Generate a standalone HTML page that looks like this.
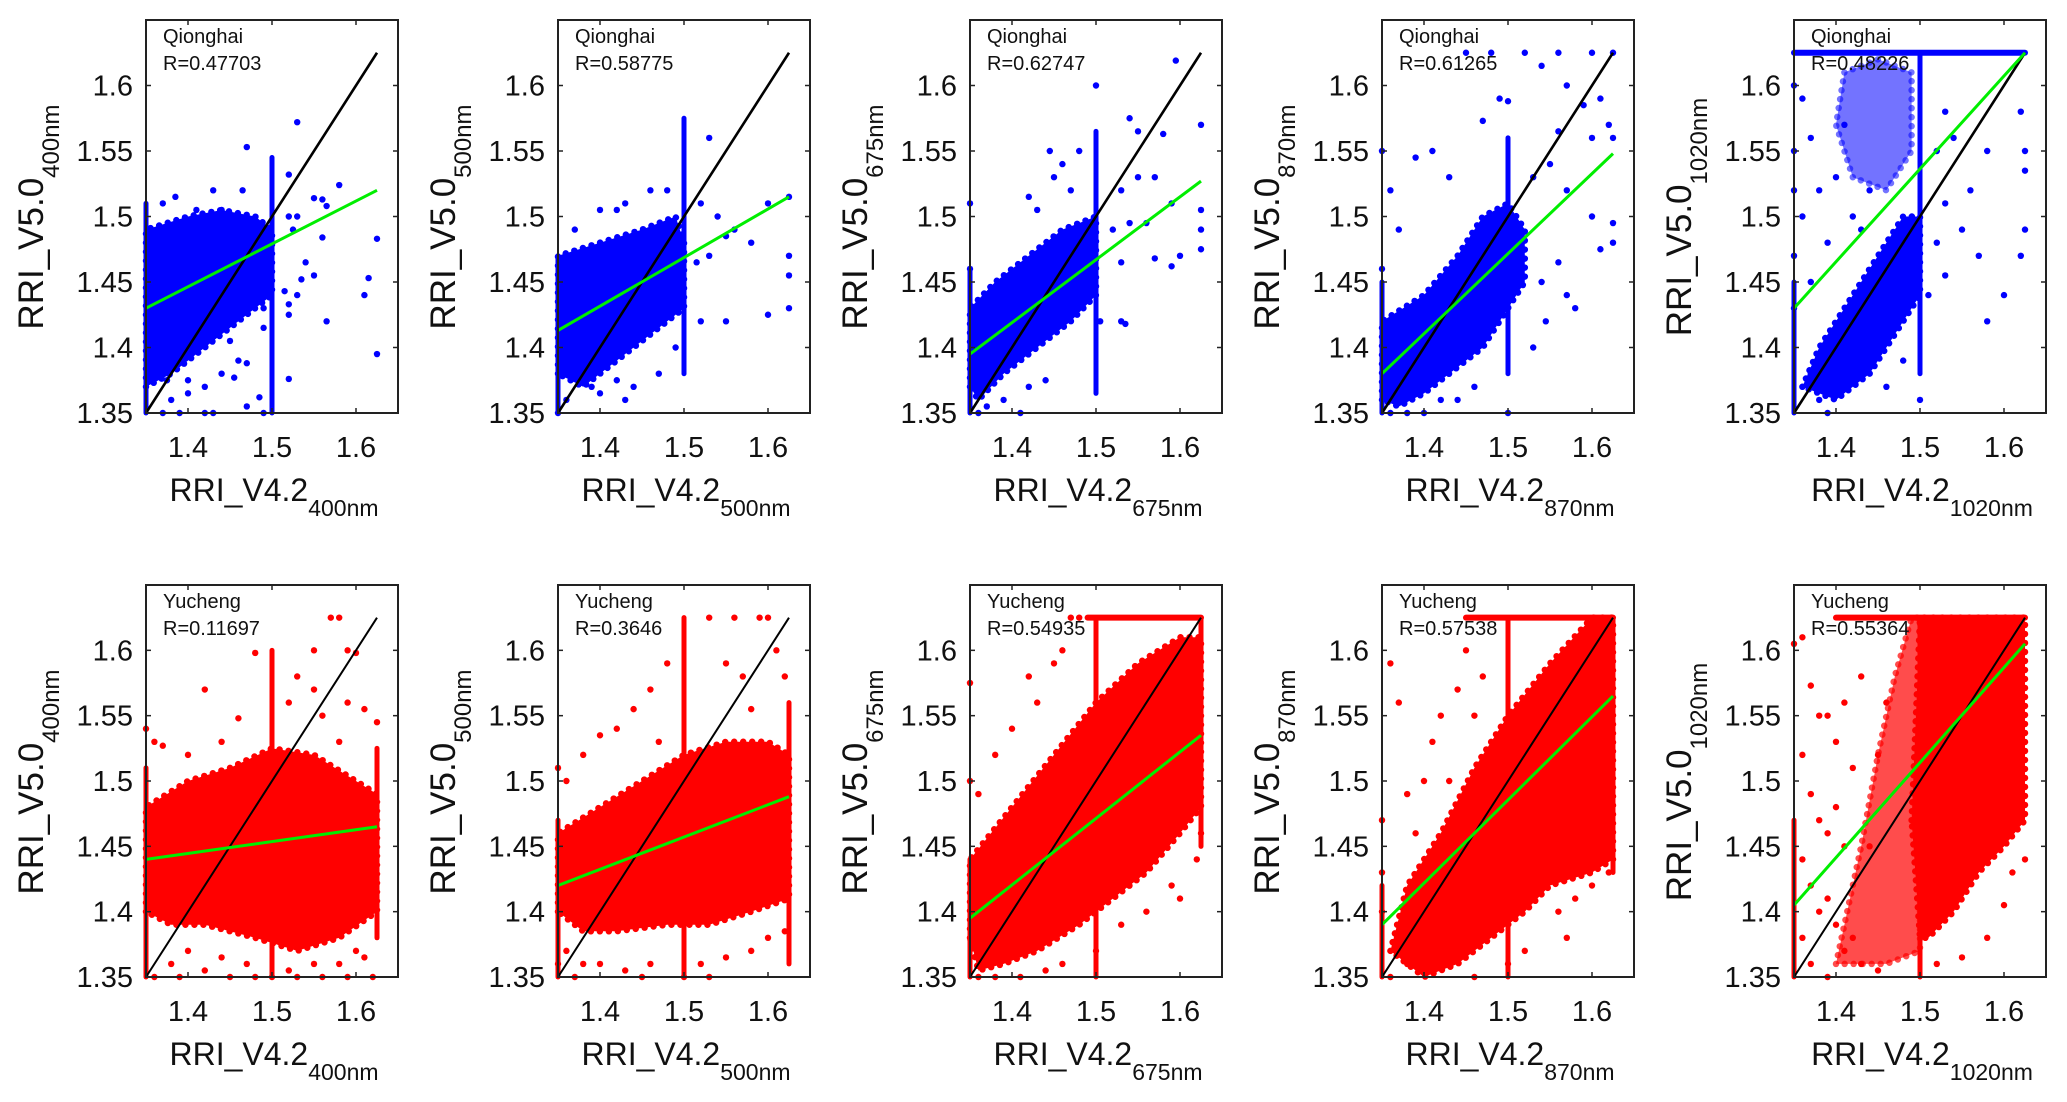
<!DOCTYPE html>
<html><head><meta charset="utf-8"><style>
html,body{margin:0;padding:0;background:#fff;}
svg{display:block;font-family:"Liberation Sans",Arial,sans-serif;}
</style></head><body>
<svg id="fig" width="2067" height="1102" viewBox="0 0 2067 1102" xmlns="http://www.w3.org/2000/svg"></svg>
<script>
// ---- data ----
const sites = ["Qionghai","Qionghai","Qionghai","Qionghai","Qionghai","Yucheng","Yucheng","Yucheng","Yucheng","Yucheng"];
const bands = ["400nm","500nm","675nm","870nm","1020nm","400nm","500nm","675nm","870nm","1020nm"];
const rValues = ["0.47703","0.58775","0.62747","0.61265","0.48226","0.11697","0.3646","0.54935","0.57538","0.55364"];
const xTicks = [1.4,1.5,1.6];
const yTicks = [1.35,1.4,1.45,1.5,1.55,1.6];
const xTickLabels = ["1.4","1.5","1.6"];
const yTickLabels = ["1.35","1.4","1.45","1.5","1.55","1.6"];
const oneToOne = [1.35,1.625];
// fit lines: [y at 1.35, y at 1.625]
const fitStart = [1.43,1.413,1.395,1.38,1.43,1.44,1.42,1.395,1.39,1.405];
const fitEnd = [1.52,1.515,1.527,1.548,1.625,1.465,1.488,1.535,1.565,1.605];
// dense cores (polygons, data units)
const cores = [
 [[[1.35,1.37],[1.35,1.49],[1.40,1.50],[1.44,1.505],[1.48,1.50],[1.50,1.49],[1.50,1.44],[1.46,1.42],[1.42,1.40],[1.38,1.38]]],
 [[[1.35,1.38],[1.35,1.47],[1.40,1.48],[1.45,1.49],[1.49,1.50],[1.50,1.48],[1.50,1.43],[1.46,1.41],[1.42,1.39],[1.38,1.37]]],
 [[[1.35,1.37],[1.35,1.43],[1.38,1.45],[1.42,1.47],[1.46,1.49],[1.50,1.50],[1.50,1.44],[1.47,1.42],[1.43,1.40],[1.39,1.38],[1.36,1.36]]],
 [[[1.35,1.36],[1.35,1.42],[1.40,1.44],[1.44,1.47],[1.47,1.50],[1.50,1.51],[1.52,1.49],[1.52,1.45],[1.50,1.43],[1.47,1.40],[1.43,1.38],[1.40,1.365],[1.37,1.355]]],
 [[[1.36,1.37],[1.38,1.40],[1.42,1.44],[1.45,1.47],[1.48,1.50],[1.50,1.50],[1.50,1.44],[1.47,1.41],[1.44,1.38],[1.40,1.36]],
  [[1.42,1.53],[1.40,1.57],[1.41,1.61],[1.45,1.62],[1.49,1.61],[1.49,1.55],[1.46,1.52]]],
 [[[1.35,1.40],[1.35,1.48],[1.40,1.50],[1.45,1.51],[1.50,1.525],[1.55,1.52],[1.60,1.50],[1.625,1.49],[1.625,1.40],[1.58,1.38],[1.53,1.37],[1.48,1.38],[1.42,1.39],[1.38,1.39]]],
 [[[1.35,1.40],[1.35,1.46],[1.40,1.48],[1.45,1.50],[1.50,1.52],[1.55,1.53],[1.60,1.53],[1.625,1.52],[1.625,1.41],[1.58,1.40],[1.53,1.39],[1.48,1.39],[1.42,1.385],[1.38,1.385]]],
 [[[1.35,1.38],[1.35,1.44],[1.40,1.48],[1.45,1.52],[1.50,1.56],[1.55,1.59],[1.60,1.61],[1.625,1.61],[1.625,1.48],[1.60,1.46],[1.56,1.43],[1.52,1.41],[1.48,1.39],[1.43,1.37],[1.39,1.36],[1.36,1.355]]],
 [[[1.36,1.37],[1.38,1.42],[1.42,1.46],[1.46,1.51],[1.50,1.55],[1.55,1.59],[1.60,1.625],[1.625,1.625],[1.625,1.44],[1.60,1.43],[1.55,1.42],[1.52,1.40],[1.48,1.38],[1.44,1.36],[1.40,1.35]]],
 [[[1.49,1.47],[1.50,1.625],[1.625,1.625],[1.625,1.47],[1.60,1.45],[1.57,1.43],[1.54,1.40],[1.51,1.38],[1.50,1.38]],
  [[1.40,1.36],[1.43,1.45],[1.45,1.52],[1.47,1.58],[1.49,1.625],[1.50,1.625],[1.50,1.37],[1.46,1.36]]]
];
// opacity of each core (sparser secondary clouds lighter)
const coreOpacity = [[1],[1],[1],[1],[1,0.55],[1],[1],[1],[1],[1,0.7]];
// vertical stripes of points: [x, y0, y1]
const stripes = [
 [[1.5,1.35,1.545],[1.35,1.35,1.51]],
 [[1.5,1.38,1.575],[1.35,1.35,1.47]],
 [[1.5,1.365,1.565],[1.35,1.35,1.46]],
 [[1.5,1.38,1.56],[1.35,1.35,1.45]],
 [[1.5,1.38,1.625],[1.35,1.35,1.45]],
 [[1.5,1.35,1.60],[1.625,1.38,1.525],[1.35,1.35,1.51]],
 [[1.5,1.35,1.625],[1.625,1.36,1.56],[1.35,1.35,1.47]],
 [[1.5,1.35,1.625],[1.625,1.45,1.625],[1.35,1.35,1.44]],
 [[1.5,1.35,1.625],[1.625,1.43,1.625],[1.35,1.35,1.42]],
 [[1.5,1.35,1.625],[1.35,1.35,1.47]]
];
// horizontal saturation bands at top: [x0, x1, y]
const topBands = [[],[],[],[],[[1.35,1.625,1.625]],[],[],[[1.49,1.625,1.625]],[[1.45,1.625,1.625]],[[1.40,1.625,1.625]]];
const scatterPts = [
 [[1.47,1.553],[1.53,1.572],[1.52,1.532],[1.58,1.524],[1.56,1.513],[1.55,1.514],[1.565,1.508],[1.53,1.50],[1.52,1.50],[1.525,1.49],[1.56,1.484],[1.625,1.483],[1.54,1.465],[1.535,1.452],[1.55,1.455],[1.515,1.443],[1.52,1.433],[1.53,1.44],[1.52,1.425],[1.61,1.44],[1.615,1.453],[1.565,1.42],[1.625,1.395],[1.52,1.376],[1.485,1.362],[1.49,1.35],[1.47,1.355],[1.47,1.388],[1.46,1.39],[1.45,1.405],[1.455,1.377],[1.44,1.38],[1.42,1.37],[1.40,1.365],[1.38,1.36],[1.39,1.35],[1.37,1.35],[1.42,1.35],[1.43,1.35],[1.40,1.375],[1.36,1.39],[1.375,1.375],[1.43,1.52],[1.385,1.515],[1.37,1.51],[1.41,1.505],[1.465,1.52],[1.44,1.505],[1.49,1.415],[1.49,1.43],[1.47,1.44],[1.48,1.45]],
 [[1.35,1.35],[1.36,1.36],[1.37,1.38],[1.39,1.37],[1.40,1.365],[1.42,1.375],[1.43,1.36],[1.44,1.37],[1.47,1.38],[1.49,1.40],[1.52,1.42],[1.55,1.42],[1.52,1.51],[1.53,1.56],[1.54,1.50],[1.55,1.485],[1.56,1.49],[1.58,1.48],[1.60,1.51],[1.625,1.515],[1.625,1.47],[1.625,1.455],[1.625,1.43],[1.60,1.425],[1.43,1.51],[1.40,1.505],[1.37,1.49],[1.42,1.505],[1.46,1.52],[1.48,1.52],[1.515,1.465],[1.53,1.47]],
 [[1.35,1.51],[1.35,1.46],[1.36,1.35],[1.37,1.355],[1.39,1.36],[1.41,1.35],[1.42,1.37],[1.44,1.375],[1.42,1.515],[1.43,1.505],[1.445,1.55],[1.45,1.53],[1.48,1.55],[1.46,1.54],[1.47,1.52],[1.50,1.60],[1.595,1.619],[1.54,1.575],[1.55,1.565],[1.58,1.563],[1.57,1.53],[1.55,1.53],[1.53,1.52],[1.52,1.49],[1.54,1.495],[1.56,1.495],[1.59,1.51],[1.625,1.57],[1.625,1.505],[1.625,1.49],[1.625,1.475],[1.60,1.47],[1.59,1.462],[1.57,1.468],[1.53,1.465],[1.505,1.42],[1.53,1.42],[1.535,1.418]],
 [[1.35,1.55],[1.35,1.46],[1.36,1.35],[1.38,1.35],[1.40,1.35],[1.42,1.36],[1.44,1.36],[1.46,1.37],[1.50,1.35],[1.37,1.49],[1.36,1.52],[1.39,1.545],[1.41,1.55],[1.43,1.53],[1.47,1.573],[1.49,1.59],[1.50,1.588],[1.45,1.625],[1.48,1.625],[1.52,1.625],[1.56,1.625],[1.60,1.625],[1.625,1.625],[1.54,1.615],[1.57,1.60],[1.59,1.585],[1.61,1.59],[1.62,1.57],[1.625,1.56],[1.60,1.56],[1.56,1.565],[1.55,1.54],[1.53,1.53],[1.57,1.52],[1.60,1.50],[1.625,1.495],[1.61,1.475],[1.56,1.465],[1.57,1.44],[1.54,1.45],[1.545,1.42],[1.53,1.40],[1.58,1.43],[1.625,1.48]],
 [[1.35,1.43],[1.35,1.47],[1.35,1.52],[1.35,1.55],[1.35,1.60],[1.36,1.59],[1.37,1.56],[1.38,1.52],[1.36,1.50],[1.39,1.48],[1.37,1.45],[1.40,1.53],[1.41,1.57],[1.42,1.50],[1.43,1.49],[1.44,1.52],[1.52,1.55],[1.53,1.58],[1.54,1.56],[1.53,1.51],[1.52,1.48],[1.55,1.49],[1.56,1.52],[1.57,1.47],[1.58,1.55],[1.60,1.44],[1.58,1.42],[1.62,1.58],[1.625,1.55],[1.625,1.535],[1.625,1.49],[1.62,1.47],[1.51,1.44],[1.53,1.455],[1.37,1.38],[1.38,1.36],[1.39,1.35],[1.50,1.36],[1.46,1.37],[1.48,1.39]],
 [[1.35,1.54],[1.36,1.53],[1.37,1.527],[1.40,1.52],[1.42,1.57],[1.46,1.548],[1.44,1.53],[1.48,1.598],[1.55,1.60],[1.57,1.625],[1.58,1.625],[1.59,1.60],[1.60,1.598],[1.53,1.58],[1.55,1.57],[1.56,1.55],[1.52,1.56],[1.59,1.56],[1.61,1.555],[1.625,1.545],[1.58,1.53],[1.40,1.37],[1.38,1.36],[1.36,1.35],[1.39,1.35],[1.42,1.355],[1.45,1.35],[1.48,1.35],[1.50,1.35],[1.53,1.35],[1.56,1.35],[1.59,1.35],[1.62,1.35],[1.55,1.36],[1.60,1.37],[1.44,1.365],[1.47,1.36],[1.52,1.355],[1.58,1.36],[1.61,1.365]],
 [[1.35,1.51],[1.36,1.50],[1.38,1.52],[1.40,1.535],[1.42,1.54],[1.44,1.555],[1.46,1.57],[1.47,1.53],[1.48,1.59],[1.53,1.625],[1.56,1.625],[1.59,1.625],[1.60,1.625],[1.55,1.59],[1.57,1.58],[1.61,1.60],[1.62,1.58],[1.58,1.555],[1.36,1.37],[1.38,1.36],[1.40,1.36],[1.43,1.355],[1.46,1.36],[1.50,1.35],[1.52,1.36],[1.55,1.365],[1.58,1.37],[1.60,1.38],[1.62,1.385],[1.37,1.35],[1.45,1.35],[1.53,1.35],[1.35,1.36]],
 [[1.35,1.575],[1.35,1.50],[1.36,1.49],[1.38,1.52],[1.40,1.54],[1.42,1.58],[1.43,1.56],[1.45,1.59],[1.46,1.60],[1.47,1.625],[1.48,1.625],[1.52,1.50],[1.55,1.46],[1.57,1.44],[1.59,1.42],[1.60,1.41],[1.625,1.46],[1.62,1.44],[1.56,1.40],[1.53,1.39],[1.50,1.37],[1.46,1.36],[1.44,1.355],[1.41,1.35],[1.38,1.35],[1.36,1.35]],
 [[1.35,1.40],[1.35,1.43],[1.35,1.47],[1.36,1.59],[1.37,1.56],[1.38,1.49],[1.40,1.50],[1.41,1.53],[1.42,1.55],[1.44,1.57],[1.45,1.60],[1.46,1.55],[1.47,1.58],[1.43,1.50],[1.39,1.46],[1.56,1.40],[1.58,1.41],[1.60,1.42],[1.57,1.38],[1.52,1.37],[1.50,1.36],[1.46,1.35],[1.38,1.36],[1.36,1.35],[1.62,1.43]],
 [[1.35,1.605],[1.36,1.61],[1.37,1.573],[1.38,1.55],[1.39,1.55],[1.40,1.53],[1.41,1.56],[1.42,1.51],[1.43,1.58],[1.36,1.52],[1.37,1.49],[1.38,1.47],[1.39,1.46],[1.40,1.48],[1.41,1.45],[1.36,1.44],[1.37,1.42],[1.38,1.40],[1.39,1.41],[1.40,1.39],[1.41,1.37],[1.42,1.38],[1.36,1.38],[1.37,1.36],[1.39,1.35],[1.43,1.36],[1.45,1.355],[1.44,1.45],[1.45,1.52],[1.46,1.56],[1.55,1.365],[1.58,1.38],[1.60,1.405],[1.61,1.43],[1.625,1.44],[1.52,1.36]]
];

// ---- drawing ----
const NS = "http://www.w3.org/2000/svg";
const svg = document.getElementById("fig");
const DMIN = 1.35, DMAX = 1.65;
const rowTop = [20, 585], rowH = [393, 392];
const panelW = 252;
function mk(tag, attrs, parent) {
  const e = document.createElementNS(NS, tag);
  for (const k in attrs) e.setAttribute(k, attrs[k]);
  (parent || svg).appendChild(e);
  return e;
}
for (let p = 0; p < 10; p++) {
  const row = p < 5 ? 0 : 1, col = p % 5;
  const L = 146 + col * 412, T = rowTop[row], H = rowH[row], W = panelW;
  const sx = v => L + (v - DMIN) / (DMAX - DMIN) * W;
  const sy = v => T + H - (v - DMIN) / (DMAX - DMIN) * H;
  const color = row === 0 ? "#0000ff" : "#ff0000";
  const g = mk("g", {});
  
  
  cores[p].forEach((poly, k) => {
    const pts = poly.map(q => sx(q[0]) + "," + sy(q[1])).join(" ");
    const op = coreOpacity[p][k];
    const pg = mk("polygon", {points: pts, fill: color, "fill-opacity": op, stroke: "none"}, g);
    
    
    const halo = mk("polygon", {points: pts, fill: "none", stroke: color, "stroke-opacity": op, "stroke-width": 6.5, "stroke-dasharray": "0 9", "stroke-linecap": "round"}, g);
    
    
  });
  stripes[p].forEach(s => {
    const ln = mk("line", {x1: sx(s[0]), x2: sx(s[0]), y1: sy(s[1]), y2: sy(s[2]), stroke: color, "stroke-width": 5, "stroke-linecap": "round"}, g);
    
    
  });
  topBands[p].forEach(b => {
    const ln = mk("line", {x1: sx(b[0]), x2: sx(b[1]), y1: sy(b[2]), y2: sy(b[2]), stroke: color, "stroke-width": 6, "stroke-linecap": "round"}, g);
    
    
  });
  scatterPts[p].forEach(q => {
    const c = mk("circle", {cx: sx(q[0]), cy: sy(q[1]), r: 3.2, fill: color}, g);
    
    
  });
  const l1 = mk("line", {x1: sx(oneToOne[0]), y1: sy(oneToOne[0]), x2: sx(oneToOne[1]), y2: sy(oneToOne[1]), stroke: "#000", "stroke-width": row === 0 ? 2.6 : 2}, g);
  
  
  const lf = mk("line", {x1: sx(oneToOne[0]), y1: sy(fitStart[p]), x2: sx(oneToOne[1]), y2: sy(fitEnd[p]), stroke: "#00ee00", "stroke-width": 3}, g);
  
  
  const fr = mk("rect", {x: L, y: T, width: W, height: H, fill: "none", stroke: "#222", "stroke-width": 2}, g);
  
  
  xTicks.forEach((v, i) => {
    mk("line", {x1: sx(v), x2: sx(v), y1: T + H, y2: T + H - 5, stroke: "#222", "stroke-width": 1.5}, g);
    mk("line", {x1: sx(v), x2: sx(v), y1: T, y2: T + 5, stroke: "#222", "stroke-width": 1.5}, g);
    const t = mk("text", {x: sx(v), y: T + H + 44, "font-size": 29, "text-anchor": "middle", fill: "#111"}, g);
    t.textContent = xTickLabels[i];
    
    
  });
  yTicks.forEach((v, i) => {
    mk("line", {x1: L, x2: L + 5, y1: sy(v), y2: sy(v), stroke: "#222", "stroke-width": 1.5}, g);
    mk("line", {x1: L + W, x2: L + W - 5, y1: sy(v), y2: sy(v), stroke: "#222", "stroke-width": 1.5}, g);
    const t = mk("text", {x: L - 13, y: sy(v) + 10, "font-size": 29, "text-anchor": "end", fill: "#111"}, g);
    t.textContent = yTickLabels[i];
    
    
  });
  const a1 = mk("text", {x: L + 17, y: T + 23, "font-size": 20, fill: "#111"}, g);
  a1.textContent = sites[p];
  
  
  const a2 = mk("text", {x: L + 17, y: T + 50, "font-size": 20, fill: "#111"}, g);
  a2.textContent = "R=" + rValues[p];
  
  
  const xt = mk("text", {x: L + W / 2 + 2, y: T + H + 88, "font-size": 32, "text-anchor": "middle", fill: "#111"}, g);
  
  
  const xs1 = mk("tspan", {}, xt); xs1.textContent = "RRI_V4.2";
  const xs2 = mk("tspan", {"font-size": 23, dy: 15}, xt); xs2.textContent = bands[p];
  const cy = T + 197;
  const yt = mk("text", {x: 0, y: 0, transform: "translate(" + (L - 103) + "," + cy + ") rotate(-90)", "font-size": 35, "text-anchor": "middle", fill: "#111"}, g);
  
  
  const ys1 = mk("tspan", {}, yt); ys1.textContent = "RRI_V5.0";
  const ys2 = mk("tspan", {"font-size": 24, dy: 16}, yt); ys2.textContent = bands[p];
}
</script>
</body></html>
